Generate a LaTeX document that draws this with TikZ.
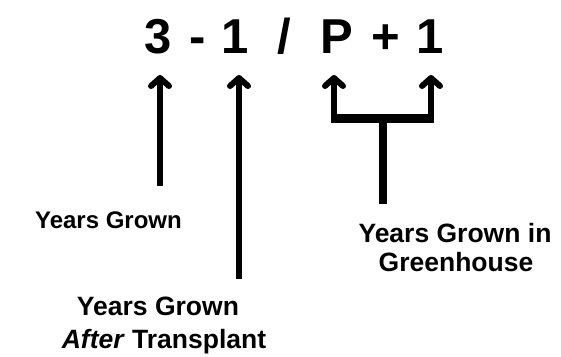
\documentclass[tikz,border=0pt]{standalone}
\usepackage{fontspec}
\setmainfont{Liberation Sans}
\usetikzlibrary{arrows.meta}
\begin{document}
\begin{tikzpicture}[x=1pt,y=-1pt,
  ch/.style={font=\fontsize{49}{49}\selectfont\bfseries, inner sep=0pt, anchor=base},
  lab/.style={inner sep=0pt, anchor=base, font=\fontsize{26.5}{32}\selectfont\bfseries},
  arr/.style={line width=6pt, -{Straight Barb[length=8pt,width=18pt,line cap=round,line join=round]}},
  bar/.style={line width=9pt},
  stemline/.style={line width=8pt}]
\useasboundingbox[fill=white] (0,0) rectangle (561,356);
% formula characters
\node[ch] (c3) at (158,53) {3};
\node[ch] (cminus) at (198,53) {-};
\node[ch] (c1a) at (235.5,53) {1};
\node[ch] (cslash) at (284.5,53) {/};
\node[ch] (cP) at (337,53) {P};
\node[ch] (cplus) at (385.5,53) {+};
\node[ch] (c1b) at (430,53) {1};
% arrow geometry
\coordinate (tip3) at (160,75);
\coordinate (tip1a) at (239,75);
\coordinate (tipP) at (334,75);
\coordinate (tip1b) at (431,75);
\coordinate (tail3) at (160,186);
\coordinate (tail1a) at (239,279);
\coordinate (bl) at (334,118);
\coordinate (br) at (431,118);
\coordinate (sb) at (383,118);
\coordinate (se) at (383,204);
\draw[arr] (tail3) -- (tip3);
\draw[arr] (tail1a) -- (tip1a);
\draw[arr] (bl) -- (tipP);
\draw[arr] (br) -- (tip1b);
\draw[bar] ([xshift=-3pt]bl) -- ([xshift=3pt]br);
\draw[stemline] (sb) -- (se);
% labels
\node[lab, anchor=base east, font=\fontsize{24}{30}\selectfont\bfseries] (lgrown) at (182,228) {Years Grown};
\node[lab] (lgh1) at (455,242) {Years Grown in};
\node[lab] (lgh2) at (456,271) {Greenhouse};
\node[lab] (lat1) at (158,315) {Years Grown};
\node[lab] (lat2) at (164,348) {\textit{After} Transplant};
\end{tikzpicture}
\end{document}
